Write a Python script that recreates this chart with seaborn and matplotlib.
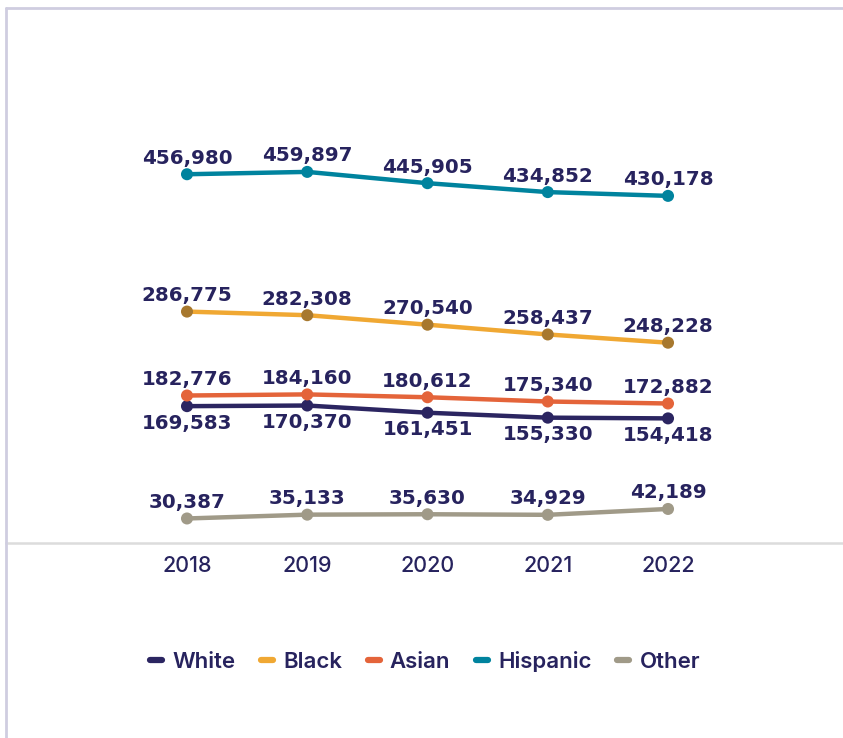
import matplotlib
matplotlib.use("Agg")
import matplotlib.pyplot as plt
from matplotlib.lines import Line2D
import seaborn as sns
import pandas as pd

years = [2018, 2019, 2020, 2021, 2022]
white = [169583, 170370, 161451, 155330, 154418]
black = [286775, 282308, 270540, 258437, 248228]
asian = [182776, 184160, 180612, 175340, 172882]
hispanic = [456980, 459897, 445905, 434852, 430178]
other = [30387, 35133, 35630, 34929, 42189]

groups = ["White", "Black", "Asian", "Hispanic", "Other"]
series = [white, black, asian, hispanic, other]

line_colors = {"White": "#2b2561", "Black": "#f0a833", "Asian": "#e4643a",
               "Hispanic": "#00839e", "Other": "#a09a88"}
marker_colors = dict(line_colors, Black="#a7782e")
label_color = "#27235e"

df = pd.DataFrame(
    [(g, y, v) for g, vals in zip(groups, series) for y, v in zip(years, vals)],
    columns=["group", "year", "value"],
)

sns.set_theme(style="white")
plt.rcParams["font.family"] = ["DejaVu Sans"]

fig = plt.figure(figsize=(8.43, 7.38), dpi=100)
ax = fig.add_axes([6 / 843, (738 - 543) / 738, 1 - 6 / 843, (543 - 8) / 738])

sns.lineplot(data=df, x="year", y="value", hue="group", hue_order=groups,
             palette=line_colors, linewidth=3.2, ax=ax, legend=False,
             solid_capstyle="round")
sns.scatterplot(data=df, x="year", y="value", hue="group", hue_order=groups,
                palette=marker_colors, s=75, edgecolor="none", ax=ax,
                legend=False, zorder=5)

# value labels: White sits below its line, the rest above
for g, vals in zip(groups, series):
    below = g == "White"
    for y, v in zip(years, vals):
        ax.annotate(f"{v:,}", (y, v), xytext=(0, -17 if below else 16),
                    textcoords="offset pixels",
                    ha="center", va="center", fontsize=14.3, fontweight="heavy",
                    color=label_color)

ax.set_xlim(2016.495, 2023.455)
ax.set_ylim(0, 663000)
ax.set_xticks(years)
ax.set_xticklabels([str(y) for y in years], fontfamily="Inter",
                   fontsize=15.5, fontweight="medium", color=label_color)
ax.set_yticks([])
ax.set_xlabel("")
ax.set_ylabel("")
ax.tick_params(axis="x", length=0, pad=9)
for s in ["top", "right", "left"]:
    ax.spines[s].set_visible(False)
ax.spines["bottom"].set_color("#dcdcdc")
ax.spines["bottom"].set_linewidth(1.8)

handles = [Line2D([0], [0], color=line_colors[g], linewidth=4.5,
                  solid_capstyle="round") for g in groups]
leg = fig.legend(handles, groups, loc="center", bbox_to_anchor=(425 / 843, 1 - 661 / 738),
                 ncol=5, frameon=False, handlelength=0.55, handletextpad=0.45,
                 columnspacing=1.15, prop={"family": "Inter", "size": 16, "weight": "semibold"})
for t in leg.get_texts():
    t.set_color(label_color)

# page frame along the top and left edges
frame = "#cfcde0"
fig.add_artist(Line2D([6 / 843, 1], [1 - 8 / 738, 1 - 8 / 738], color=frame,
                      linewidth=2, transform=fig.transFigure))
fig.add_artist(Line2D([6 / 843, 6 / 843], [0, 1 - 8 / 738], color=frame,
                      linewidth=2, transform=fig.transFigure))

fig.savefig("out.png", dpi=100)
